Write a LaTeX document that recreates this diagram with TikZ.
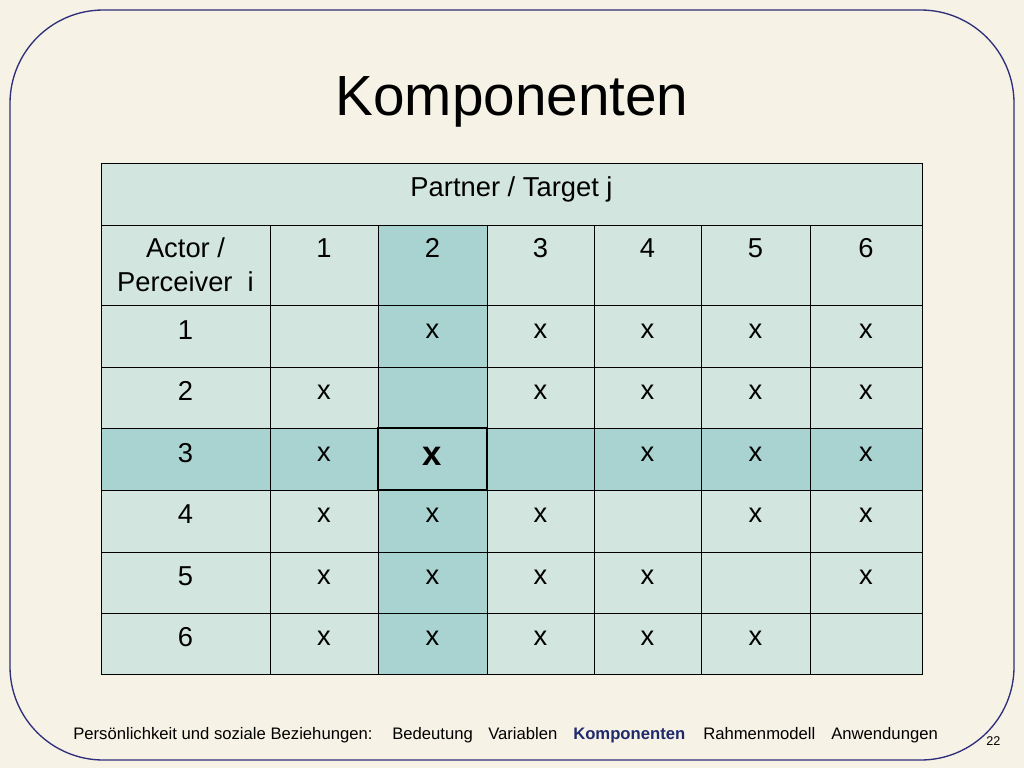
\documentclass[tikz,border=0pt]{standalone}
\usepackage{fontspec}
\setmainfont{Liberation Sans}
\definecolor{bg}{HTML}{F7F2E6}
\definecolor{frame}{HTML}{2E2E7A}
\definecolor{cellA}{HTML}{D3E5DF}
\definecolor{cellB}{HTML}{A9D3D0}
\definecolor{navy}{HTML}{1F2A6B}
\begin{document}
\begin{tikzpicture}[x=0.75pt,y=-0.75pt,
  cell/.style={draw=black,line width=0.6pt},
  txt/.style={font=\fontsize{20.5}{25}\selectfont,align=center,anchor=base,inner sep=0pt},
  foot/.style={font=\fontsize{12.5}{15}\selectfont,anchor=base west,inner sep=0pt}]
\fill[bg] (0,0) rectangle (1024,768);
\useasboundingbox (0,0) rectangle (1024,768);
\draw[frame,line width=1pt,rounded corners=70pt] (10,10) rectangle (1014,760);
\node[font=\fontsize{42.5}{50}\selectfont] (title) at (512,102) {Komponenten};
\def\xs{{101,270,378,487,594,701,810,922}}
\def\ys{{225,305,367,428,490,552,613,674}}
\draw[cell,fill=cellA] (101,163) rectangle (922,225);
\node[txt] (hdr) at (511.5,196) {Partner / Target j};
\foreach \r in {0,...,6}{
 \foreach \c in {0,...,6}{
  \pgfmathsetmacro{\xa}{\xs[\c]}\pgfmathsetmacro{\xb}{\xs[\c+1]}
  \pgfmathsetmacro{\ya}{\ys[\r]}\pgfmathsetmacro{\yb}{\ys[\r+1]}
  \pgfmathtruncatemacro{\hl}{(\c==2)||(\r==3)}
  \ifnum\hl=1 \def\fc{cellB}\else\def\fc{cellA}\fi
  \draw[cell,fill=\fc] (\xa,\ya) rectangle (\xb,\yb);
 }}
\node[txt] (ap1) at (185.5,257) {Actor /};
\node[txt] (ap2) at (185.5,291) {Perceiver\ \ i};
\foreach \c/\x in {1/324,2/432.5,3/540.5,4/647.5,5/755.5,6/866}
  \node[txt] (h\c) at (\x,257) {\c};
\foreach \r/\y in {1/339,2/400,3/462,4/523,5/585,6/646}{
  \node[txt] (r\r) at (185.5,\y) {\r};
  \foreach \c/\x in {1/324,2/432.5,3/540.5,4/647.5,5/755.5,6/866}{
    \pgfmathtruncatemacro{\show}{(\c!=\r)&&!((\r==3)&&(\c==2))}
    \ifnum\show=1 \node[txt] (c\r\c) at (\x,\y-1) {x};\fi
  }}
\draw[black,line width=2pt] (378,428) rectangle (487,490);
\node[txt,font=\fontsize{26}{30}\selectfont\bfseries] (c32) at (432.5,465) {x};
\node[foot] (f1) at (73,739) {Persönlichkeit und soziale Beziehungen:};
\node[foot] (f2) at (392,739) {Bedeutung};
\node[foot] (f3) at (488,739) {Variablen};
\node[foot,text=navy,font=\fontsize{12.5}{15}\selectfont\bfseries] (f4) at (573,739) {Komponenten};
\node[foot] (f5) at (703,739) {Rahmenmodell};
\node[foot] (f6) at (831,739) {Anwendungen};
\node[foot,font=\fontsize{9.5}{11}\selectfont] (pg) at (986,745) {22};
\end{tikzpicture}
\end{document}
